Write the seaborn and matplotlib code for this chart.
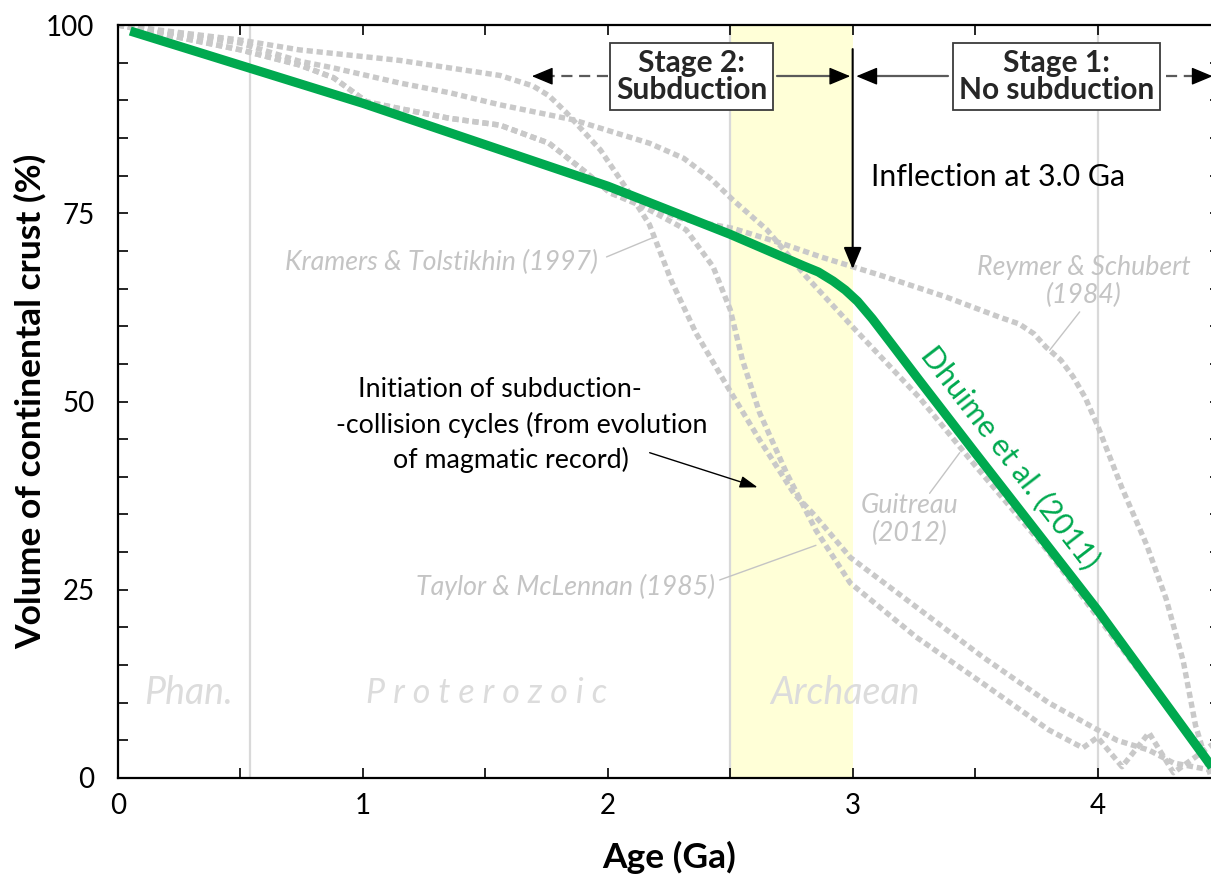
import matplotlib
matplotlib.use("Agg")
import matplotlib.pyplot as plt
import seaborn as sns

sns.set_theme(style="white")
plt.rcParams['font.family'] = ['Lato', 'DejaVu Sans']

# ---- crustal growth curves (age in Ga, cumulative volume in %) ----
dhuime_age = [0.05, 1.0, 2.0, 2.5, 2.8, 2.86, 2.92, 2.97, 3.02, 3.08, 3.16, 3.27, 3.5, 4.0, 4.5]
dhuime_vol = [99.2, 89.6, 78.6, 72.2, 68.0, 67.2, 66.0, 64.8, 63.3, 61.0, 57.6, 52.9, 43.2, 22.3, 0.0]

kramers_age = [0.0, 0.5, 0.74, 1.15, 1.355, 1.56, 1.695, 1.76, 1.83, 1.97, 2.08, 2.17, 2.26,
               2.36, 2.49, 2.62, 2.76, 2.85, 2.99, 3.26, 3.53, 3.80, 4.0, 4.08, 4.21, 4.31, 4.47]
kramers_vol = [100.0, 98.0, 96.7, 95.3, 94.3, 93.3, 91.9, 90.6, 88.4, 83.4, 78.1, 73.5, 66.0,
               59.1, 51.9, 44.9, 37.8, 34.7, 29.3, 22.7, 16.1, 10.0, 6.4, 5.0, 3.7, 2.0, 1.0]

taylor_age = [0.0, 0.5, 0.74, 0.88, 1.015, 1.15, 1.355, 1.56, 1.76, 1.90, 2.01, 2.15, 2.32,
              2.43, 2.50, 2.55, 2.62, 2.73, 2.85, 2.99, 3.26, 3.53, 3.80, 3.94, 4.0, 4.10,
              4.21, 4.31, 4.40, 4.47]
taylor_vol = [100.0, 96.7, 94.7, 93.0, 89.8, 88.9, 87.6, 86.7, 84.3, 80.7, 77.7, 75.8, 72.8,
              67.9, 62.2, 55.5, 48.5, 40.5, 32.9, 25.9, 18.7, 12.6, 6.4, 4.0, 5.4, 1.5,
              6.0, 0.7, 2.8, 4.5]

reymer_age = [0.0, 0.5, 0.74, 0.88, 1.015, 1.15, 1.355, 1.56, 1.76, 1.90, 2.01, 2.31, 2.51,
              2.71, 2.87, 3.0, 3.11, 3.38, 3.6, 3.68, 3.74, 3.79, 3.85, 3.90, 3.95, 4.0,
              4.1, 4.2, 4.28, 4.35, 4.40, 4.46]
reymer_vol = [100.0, 96.7, 94.7, 93.0, 89.8, 88.9, 87.6, 86.7, 84.3, 80.7, 77.7, 74.2, 73.0,
              71.0, 69.2, 67.9, 66.8, 63.9, 61.2, 60.3, 59.0, 57.2, 55.5, 53.3, 50.5, 46.8,
              38.5, 31.0, 23.8, 15.5, 7.0, 0.5]

guitreau_age = [0.0, 0.5, 0.74, 0.88, 1.15, 1.355, 1.56, 1.86, 2.17, 2.31, 2.42, 2.51,
                2.65, 2.81, 3.0, 3.27, 3.5, 3.8, 4.0, 4.25, 4.5]
guitreau_vol = [100.0, 97.6, 95.2, 94.3, 92.3, 91.0, 89.4, 87.4, 84.3, 82.3, 79.6, 76.8,
                72.8, 66.6, 59.9, 50.6, 41.5, 30.0, 21.4, 10.8, 0.0]

# ---- geological time ----
era_bounds = [0.541, 2.5, 4.0]
era_names = ["Phan.", "P r o t e r o z o i c", "Archaean"]
era_centres = [0.286, 1.506, 2.967]
subduction_window = [2.5, 3.0]

x_ticks = [0.0, 0.5, 1.0, 1.5, 2.0, 2.5, 3.0, 3.5, 4.0, 4.5]
x_tick_labels = ["0", "", "1", "", "2", "", "3", "", "4", ""]
y_ticks = list(range(0, 101, 5))
y_tick_labels = [str(v) if v % 25 == 0 else "" for v in y_ticks]

GREY_CURVE = "#C9C9C9"
GREY_TEXT = "#C4C4C4"
GREEN = "#00A94F"

W, H = 1211, 877
fig = plt.figure(figsize=(W / 100, H / 100), dpi=100)
ax = fig.add_axes([118 / W, 99 / H, 1102 / W, 753 / H])
ax.set_xlim(0, 4.5)
ax.set_ylim(0, 100)

ax.axvspan(*subduction_window, color="#FFFFD7", lw=0, zorder=0)
for b in era_bounds:
    ax.axvline(b, color="#D9D9D9", lw=1.6, zorder=0.5)
for name, xc in zip(era_names, era_centres):
    ax.text(xc, 11.3, name, ha="center", va="center",
            fontsize=24.5 if " " in name else 27,
            style="italic", color="#DCDCDC", zorder=1)

dotted = dict(color=GREY_CURVE, lw=3.9, linestyle=(0, (1.15, 0.7)),
              dash_capstyle="butt", sort=False, estimator=None, zorder=2)
for xs, ys in [(reymer_age, reymer_vol), (guitreau_age, guitreau_vol),
               (taylor_age, taylor_vol), (kramers_age, kramers_vol)]:
    sns.lineplot(x=xs, y=ys, ax=ax, **dotted)

sns.lineplot(x=dhuime_age, y=dhuime_vol, ax=ax, color=GREEN, lw=6.6,
             solid_joinstyle="round", solid_capstyle="butt",
             sort=False, estimator=None, zorder=4)

# ---- reference labels with leader lines ----
lab = dict(color=GREY_TEXT, style="italic", fontsize=19.3, zorder=3)
ax.text(1.959, 68.5, "Kramers & Tolstikhin (1997)", ha="right", va="center", **lab)
ax.plot([1.995, 2.18], [69.2, 71.7], color=GREY_TEXT, lw=1.0, zorder=3)
ax.text(2.437, 25.4, "Taylor & McLennan (1985)", ha="right", va="center", **lab)
ax.plot([2.457, 2.85], [26.3, 30.9], color=GREY_TEXT, lw=1.0, zorder=3)
ax.text(3.943, 65.9, "Reymer & Schubert\n(1984)", ha="center", va="center",
        linespacing=1.15, **lab)
ax.plot([3.927, 3.804], [61.9, 56.8], color=GREY_TEXT, lw=1.0, zorder=3)
ax.text(3.233, 34.3, "Guitreau\n(2012)", ha="center", va="center",
        linespacing=1.15, **lab)
ax.plot([3.314, 3.437], [37.8, 43.2], color=GREY_TEXT, lw=1.0, zorder=3)

ax.text(3.645, 42.6, "Dhuime et al. (2011)", color=GREEN, fontsize=22,
        rotation=-52.4, rotation_mode="anchor", ha="center", va="center", zorder=5)

# ---- annotations ----
head = "-|>,head_length=0.6,head_width=0.25"
ax.annotate("", xy=(3.0, 67.6), xytext=(3.0, 96.8),
            arrowprops=dict(arrowstyle=head, color="black", lw=1.5,
                            shrinkA=0, shrinkB=0, mutation_scale=22), zorder=6)
ax.text(3.073, 79.8, "Inflection at 3.0 Ga", ha="left", va="center",
        fontsize=21.8, color="black")

init_lines = ["Initiation of subduction-", "-collision cycles (from evolution",
              "of magmatic record)"]
for line, xc, yc in zip(init_lines, [1.559, 1.647, 1.604], [51.6, 46.9, 42.2]):
    ax.text(xc, yc, line, ha="center", va="center", fontsize=19.3, color="black")
ax.annotate("", xy=(2.612, 38.6), xytext=(2.171, 43.2),
            arrowprops=dict(arrowstyle="-|>,head_length=0.6,head_width=0.2",
                            color="black", lw=1.0, shrinkA=0, shrinkB=0,
                            mutation_scale=18), zorder=6)


def stage_arrow(x_start, x_tip, y, dashed):
    direction = 1 if x_tip > x_start else -1
    shaft_end = x_tip - direction * 0.04
    ax.plot([x_start, shaft_end], [y, y], color="#5A5A5A", lw=1.6,
            linestyle=(0, (5, 3)) if dashed else "-", zorder=6)
    ax.annotate("", xy=(x_tip, y), xytext=(x_tip - direction * 0.06, y),
                arrowprops=dict(arrowstyle=head, color="black", lw=1.0,
                                shrinkA=0, shrinkB=0, mutation_scale=22), zorder=7)


stage_y = 93.2
stage_arrow(2.0, 1.69, stage_y, True)
stage_arrow(2.69, 2.99, stage_y, False)
stage_arrow(3.39, 3.015, stage_y, False)
stage_arrow(4.28, 4.47, stage_y, True)

box = dict(boxstyle="square,pad=0.2", fc="white", ec="#3A3A3A", lw=1.3)
ax.text(2.343, stage_y, "Stage 2:\nSubduction", ha="center", va="center",
        fontsize=21.5, fontweight="bold", linespacing=0.95, bbox=box, zorder=8)
ax.text(3.833, stage_y, "Stage 1:\nNo subduction", ha="center", va="center",
        fontsize=21.5, fontweight="bold", linespacing=0.95, bbox=box, zorder=8)

# ---- axes styling ----
for s in ax.spines.values():
    s.set_color("black")
    s.set_linewidth(1.6)
ax.set_xticks(x_ticks)
ax.set_xticklabels(x_tick_labels)
ax.set_yticks(y_ticks)
ax.set_yticklabels(y_tick_labels)
ax.tick_params(axis="both", direction="in", length=7.5, width=1.2, color="black",
               labelsize=20, labelcolor="black", top=True, right=True,
               bottom=True, left=True)
ax.tick_params(axis="x", pad=11)
ax.tick_params(axis="y", pad=17)
ax.set_xlabel("Age (Ga)", fontsize=25.5, fontweight="bold", color="black", labelpad=15.5)
ax.set_ylabel("Volume of continental crust (%)", fontsize=25.5, fontweight="bold",
              color="black", labelpad=-0.5)

fig.savefig("out.png", dpi=100)
